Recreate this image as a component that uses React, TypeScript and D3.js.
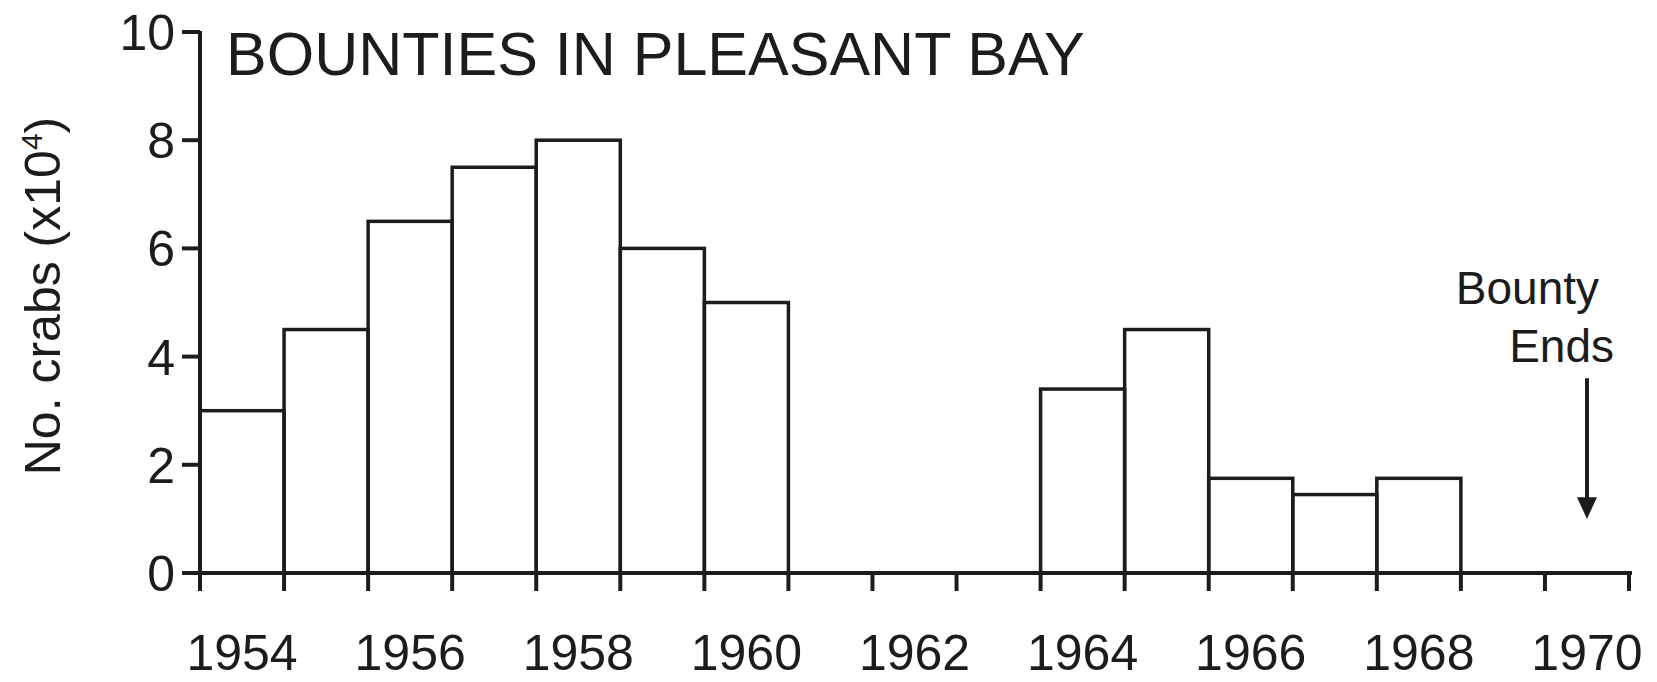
import React, { useEffect, useRef } from "react";
import * as d3 from "d3";

// --- Data
const years = [1954, 1955, 1956, 1957, 1958, 1959, 1960, 1961, 1962, 1963, 1964, 1965, 1966, 1967, 1968];
const crabs = [3.0, 4.5, 6.5, 7.5, 8.0, 6.0, 5.0, 0, 0, 0, 3.4, 4.5, 1.75, 1.45, 1.75];
const yTicks = [0, 2, 4, 6, 8, 10];
const yearTicks = d3.range(1954, 1972);
const yearLabels = [1954, 1956, 1958, 1960, 1962, 1964, 1966, 1968, 1970];
const bountyEndYear = 1970;
const titleText = "BOUNTIES IN PLEASANT BAY";

const W = 1657;
const H = 682;
const FONT = "'Liberation Sans', Arial, Helvetica, sans-serif";

const App: React.FC = () => {
  const ref = useRef<SVGSVGElement | null>(null);

  useEffect(() => {
    document.body.style.margin = "0";
    if (!ref.current) return;
    const svg = d3.select(ref.current);
    svg.selectAll("*").remove();

    const x = d3.scaleLinear().domain([1954, 1971]).range([200, 1629]);
    const y = d3.scaleLinear().domain([0, 10]).range([573, 32]);
    const ink = "#1c1c1c";
    const tickLen = 18;

    // bars (histogram-style, one bin per year)
    const bars = years
      .map((yr, i) => ({ yr, v: crabs[i] }))
      .filter((d) => d.v > 0);

    svg
      .append("g")
      .selectAll("rect")
      .data(bars)
      .join("rect")
      .attr("x", (d) => x(d.yr))
      .attr("y", (d) => y(d.v))
      .attr("width", (d) => x(d.yr + 1) - x(d.yr))
      .attr("height", (d) => y(0) - y(d.v))
      .attr("fill", "none")
      .attr("stroke", ink)
      .attr("stroke-width", 3.5);

    // axes
    const axes = svg.append("g").attr("stroke", ink).attr("stroke-width", 4);
    axes
      .append("line")
      .attr("x1", x(1954) - tickLen)
      .attr("x2", x(1971) + 3)
      .attr("y1", y(0))
      .attr("y2", y(0));
    axes
      .append("line")
      .attr("x1", x(1954))
      .attr("x2", x(1954))
      .attr("y1", y(10) - 1)
      .attr("y2", y(0) + tickLen);

    axes
      .selectAll(".ytick")
      .data(yTicks)
      .join("line")
      .attr("class", "ytick")
      .attr("x1", x(1954) - tickLen)
      .attr("x2", x(1954))
      .attr("y1", (d) => y(d))
      .attr("y2", (d) => y(d));

    axes
      .selectAll(".xtick")
      .data(yearTicks)
      .join("line")
      .attr("class", "xtick")
      .attr("x1", (d) => x(d))
      .attr("x2", (d) => x(d))
      .attr("y1", y(0))
      .attr("y2", y(0) + tickLen);

    // tick labels
    svg
      .append("g")
      .selectAll("text")
      .data(yTicks)
      .join("text")
      .attr("x", 175)
      .attr("y", (d) => y(d) + 18)
      .attr("text-anchor", "end")
      .style("font-family", FONT)
      .style("font-size", "50px")
      .style("fill", ink)
      .text((d) => String(d));

    svg
      .append("g")
      .selectAll("text")
      .data(yearLabels)
      .join("text")
      .attr("x", (d) => x(d + 0.5))
      .attr("y", 670)
      .attr("text-anchor", "middle")
      .style("font-family", FONT)
      .style("font-size", "50px")
      .style("fill", ink)
      .text((d) => String(d));

    // y axis title
    const yt = svg
      .append("text")
      .attr("transform", "translate(60, 296) rotate(-90)")
      .attr("text-anchor", "middle")
      .style("font-family", FONT)
      .style("font-size", "50px")
      .style("fill", ink);
    yt.append("tspan").text("No. crabs (x10");
    yt.append("tspan").attr("dy", -18).style("font-size", "30px").text("4");
    yt.append("tspan").attr("dy", 18).text(")");

    // title
    svg
      .append("text")
      .attr("x", 226)
      .attr("y", 75)
      .style("font-family", FONT)
      .style("font-size", "61px")
      .style("fill", ink)
      .text(titleText);

    // bounty ends annotation
    const ax = x(bountyEndYear + 0.5);
    svg
      .append("text")
      .attr("x", 1599)
      .attr("y", 304)
      .attr("text-anchor", "end")
      .style("font-family", FONT)
      .style("font-size", "46px")
      .style("fill", ink)
      .text("Bounty");
    svg
      .append("text")
      .attr("x", 1614)
      .attr("y", 362)
      .attr("text-anchor", "end")
      .style("font-family", FONT)
      .style("font-size", "46px")
      .style("fill", ink)
      .text("Ends");

    svg
      .append("line")
      .attr("x1", ax)
      .attr("x2", ax)
      .attr("y1", y(3.6))
      .attr("y2", y(1.3))
      .attr("stroke", ink)
      .attr("stroke-width", 4);
    svg
      .append("path")
      .attr(
        "d",
        `M${ax - 10},${y(1.4)} L${ax + 10},${y(1.4)} L${ax},${y(1.0)} Z`
      )
      .attr("fill", ink);
  }, []);

  return (
    <svg
      ref={ref}
      width={W}
      height={H}
      style={{ display: "block", background: "#fff" }}
    ></svg>
  );
};

export default App;
